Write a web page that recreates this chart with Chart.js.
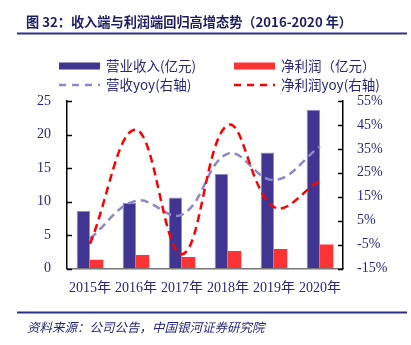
<!DOCTYPE html>
<html lang="zh">
<head>
  <meta charset="UTF-8">
  <title>收入端与利润端回归高增态势</title>
  <script src="https://cdn.jsdelivr.net/npm/chart.js"></script>
  <style>
    html, body { margin: 0; padding: 0; background: #fff; }
    #wrap { width: 411px; height: 345px; position: relative; }
  </style>
</head>
<body>
  <div id="wrap"><canvas id="grafico" width="411" height="345"></canvas></div>

  <script>
    // dati
    const anni = ['2015年', '2016年', '2017年', '2018年', '2019年', '2020年'];
    const ricavi = [8.6, 9.8, 10.6, 14.1, 17.3, 23.7];        // 营业收入(亿元)
    const utileNetto = [1.3, 2.0, 1.7, 2.6, 2.9, 3.6];        // 净利润(亿元)
    const ricaviYoy = [-2.5, 13.3, 7.5, 33, 22, 36];          // 营收yoy(右轴) %
    const utileYoy = [-4.7, 43, -9, 45, 10.7, 21.7];          // 净利润yoy(右轴) %
    const tickSinistra = [0, 5, 10, 15, 20, 25];
    const tickDestra = [-15, -5, 5, 15, 25, 35, 45, 55];

    const navy = '#262680';
    const viola = '#403691';
    const rosso = '#ff3333';
    const violaChiaro = '#8c87c6';
    const rossoLinea = '#ff0000';
    const serif = "'Liberation Serif', 'Noto Sans CJK SC', serif";
    const cjk = "'Noto Sans CJK SC', sans-serif";

    // titolo, linee, fonte, legenda e tacche interne
    const decorazioni = {
      id: 'decorazioni',
      afterDraw(chart) {
        const c = chart.ctx;
        c.save();
        c.fillStyle = '#1c1c66';
        c.font = "bold 13.2px 'Noto Sans CJK SC', sans-serif";
        c.textBaseline = 'middle';
        c.fillText('图 32：收入端与利润端回归高增态势（2016-2020 年）', 26, 22);

        c.strokeStyle = '#2e2e8e';
        c.lineWidth = 2;
        c.beginPath(); c.moveTo(17, 33.5); c.lineTo(407, 33.5); c.stroke();
        c.beginPath(); c.moveTo(17, 312.5); c.lineTo(407, 312.5); c.stroke();

        c.fillStyle = navy;
        c.font = "italic 12.5px 'Noto Sans CJK SC', sans-serif";
        c.fillText('资料来源：公司公告，中国银河证券研究院', 27, 327);

        // legenda 2x2
        const ds = chart.data.datasets;
        const pos = [[59, 66], [234, 66], [59, 85], [234, 85]];
        c.font = '13.5px ' + cjk;
        ds.forEach((d, i) => {
          const [x, y] = pos[i];
          if (d.type === 'line') {
            c.strokeStyle = d.borderColor;
            c.lineWidth = 2.5;
            c.setLineDash([7, 6]);
            c.beginPath(); c.moveTo(x, y); c.lineTo(x + 41, y); c.stroke();
            c.setLineDash([]);
          } else {
            c.fillStyle = d.backgroundColor;
            c.fillRect(x, y - 3.5, 41, 7);
          }
          c.fillStyle = navy;
          c.fillText(d.label, x + 47, y);
        });

        // tacche verso l'interno
        const y = chart.scales.y, y1 = chart.scales.y1;
        c.strokeStyle = '#000';
        c.lineWidth = 1.5;
        tickSinistra.forEach(v => {
          const p = Math.round(y.getPixelForValue(v)) + 0.5;
          c.beginPath(); c.moveTo(y.right, p); c.lineTo(y.right + 5, p); c.stroke();
        });
        tickDestra.forEach(v => {
          const p = Math.round(y1.getPixelForValue(v)) + 0.5;
          c.beginPath(); c.moveTo(y1.left - 5, p); c.lineTo(y1.left, p); c.stroke();
        });
        c.restore();
      }
    };

    const ctx = document.getElementById('grafico').getContext('2d');
    new Chart(ctx, {
      data: {
        labels: anni,
        datasets: [
          {
            type: 'bar', label: '营业收入(亿元)', data: ricavi, yAxisID: 'y',
            backgroundColor: viola, borderColor: '#8f8ac4', borderWidth: { top: 1, left: 1, right: 1, bottom: 0 },
            barPercentage: 1, categoryPercentage: 0.58, order: 2
          },
          {
            type: 'bar', label: '净利润（亿元）', data: utileNetto, yAxisID: 'y',
            backgroundColor: rosso, barPercentage: 1, categoryPercentage: 0.58, order: 2
          },
          {
            type: 'line', label: '营收yoy(右轴)', data: ricaviYoy, yAxisID: 'y1',
            borderColor: violaChiaro, borderWidth: 2.5, borderDash: [8, 5],
            pointRadius: 0, tension: 0.4, fill: false, order: 1
          },
          {
            type: 'line', label: '净利润yoy(右轴)', data: utileYoy, yAxisID: 'y1',
            borderColor: rossoLinea, borderWidth: 2.5, borderDash: [8, 5],
            pointRadius: 0, tension: 0.4, fill: false, order: 0
          }
        ]
      },
      options: {
        responsive: false,
        animation: false,
        layout: { padding: { top: 101, left: 0, right: 0, bottom: 0 } },
        plugins: { legend: { display: false }, tooltip: { enabled: false } },
        scales: {
          x: {
            grid: { display: false, drawTicks: false },
            border: { color: '#777', width: 1.5 },
            ticks: { color: navy, font: { family: serif, size: 14 }, padding: 11, maxRotation: 0 },
            afterFit(s) { s.height = 76.5; }
          },
          y: {
            position: 'left', min: 0, max: 25,
            grid: { drawOnChartArea: false, drawTicks: false },
            border: { color: '#000', width: 1.5 },
            ticks: { stepSize: 5, color: navy, font: { family: serif, size: 14 }, padding: 16 },
            afterFit(s) { s.width = 67; }
          },
          y1: {
            position: 'right', min: -15, max: 55,
            grid: { drawOnChartArea: false, drawTicks: false },
            border: { color: '#000', width: 1.5 },
            ticks: { stepSize: 10, color: navy, font: { family: serif, size: 14 }, padding: 14,
                     callback: v => v + '%' },
            afterFit(s) { s.width = 68; }
          }
        }
      },
      plugins: [decorazioni]
    });
  </script>
</body>
</html>
